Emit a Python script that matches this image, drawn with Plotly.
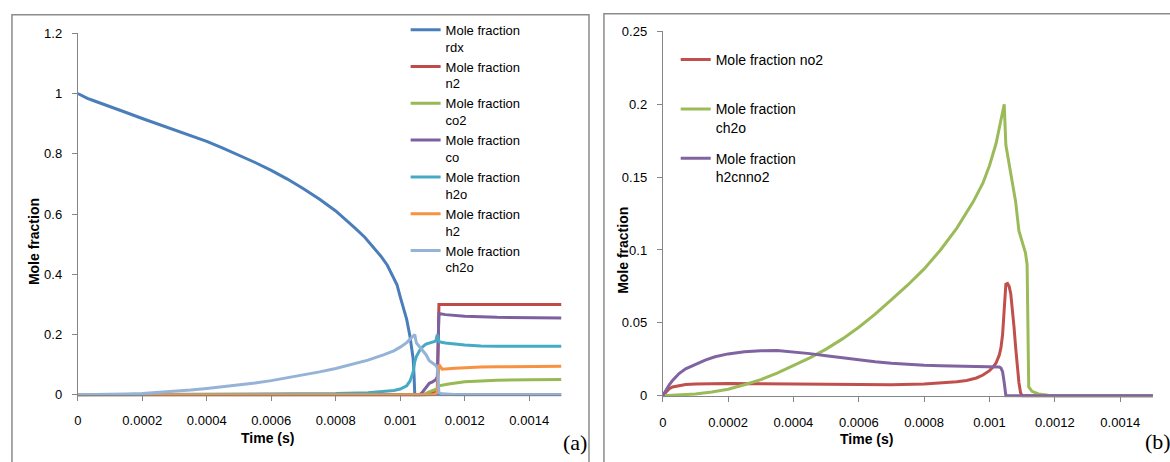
import plotly.graph_objects as go

# ---------------- data ----------------
# Panel (a)
t_rdx = [0, 0.00001, 0.00002, 0.00003, 0.00005, 0.00008, 0.0001, 0.00015, 0.0002, 0.00025,
         0.0003, 0.00035, 0.0004, 0.00045, 0.0005, 0.00055, 0.0006, 0.00065, 0.0007, 0.00075,
         0.0008, 0.00083, 0.00086, 0.00089, 0.00092, 0.00094, 0.00096, 0.00098, 0.00099, 0.001,
         0.00101, 0.00102, 0.00103, 0.00104, 0.001043, 0.001045, 0.0015]
y_rdx = [1.0, 0.994, 0.989, 0.984, 0.976, 0.965, 0.957, 0.937, 0.917, 0.898,
         0.879, 0.86, 0.841, 0.819, 0.796, 0.771, 0.745, 0.716, 0.684, 0.649,
         0.61, 0.583, 0.553, 0.523, 0.487, 0.46, 0.43, 0.39, 0.365, 0.325,
         0.29, 0.25, 0.195, 0.12, 0.06, 0.0, 0.0]

t_n2 = [0, 0.00108, 0.0011, 0.00111, 0.001115, 0.00112, 0.0015]
y_n2 = [0, 0, 0.005, 0.01, 0.02, 0.3, 0.3]

t_co2 = [0, 0.00107, 0.00109, 0.0011, 0.00111, 0.001115, 0.00112, 0.00115, 0.0012, 0.00125,
         0.0013, 0.0014, 0.0015]
y_co2 = [0, 0, 0.01, 0.015, 0.018, 0.02, 0.03, 0.036, 0.043, 0.046, 0.048, 0.05, 0.051]

t_co = [0, 0.00106, 0.00107, 0.00108, 0.00109, 0.0011, 0.00111, 0.001115, 0.00112, 0.00114,
        0.00117, 0.0012, 0.00125, 0.0013, 0.0015]
y_co = [0, 0, 0.01, 0.025, 0.038, 0.043, 0.05, 0.06, 0.27, 0.266, 0.263, 0.261, 0.259, 0.257, 0.255]

t_h2o = [0, 0.0005, 0.0008, 0.0009, 0.00095, 0.00098, 0.001, 0.00102, 0.00103, 0.00104, 0.001045,
         0.00105, 0.00106, 0.00107, 0.00108, 0.0011, 0.00111, 0.001115, 0.00112, 0.00114, 0.00117,
         0.0012, 0.00125, 0.0013, 0.0015]
y_h2o = [0, 0.002, 0.004, 0.007, 0.01, 0.014, 0.019, 0.03, 0.045, 0.075, 0.11,
         0.127, 0.147, 0.16, 0.168, 0.176, 0.178, 0.2, 0.176, 0.172, 0.168,
         0.165, 0.162, 0.161, 0.161]

t_h2 = [0, 0.0011, 0.00111, 0.001115, 0.00112, 0.00113, 0.00117, 0.0012, 0.00125, 0.0013, 0.0015]
y_h2 = [0, 0, 0.003, 0.01, 0.1, 0.085, 0.088, 0.09, 0.092, 0.093, 0.095]

t_ch2o = [0, 0.00005, 0.0001, 0.00015, 0.0002, 0.00025, 0.0003, 0.00035, 0.0004, 0.00045,
          0.0005, 0.00055, 0.0006, 0.00065, 0.0007, 0.00075, 0.0008, 0.00085, 0.0009, 0.00095,
          0.00098, 0.001, 0.00102, 0.00103, 0.00104, 0.001045, 0.00105, 0.00106, 0.00107,
          0.00108, 0.00109, 0.0011, 0.00111, 0.001115, 0.00112, 0.00113, 0.00115, 0.00118,
          0.0012, 0.0015]
y_ch2o = [0, 0.0004, 0.0012, 0.0025, 0.0045, 0.0075, 0.011, 0.0155, 0.0206, 0.026,
          0.032, 0.039, 0.047, 0.056, 0.066, 0.076, 0.087, 0.1, 0.115, 0.133,
          0.146, 0.158, 0.173, 0.184, 0.196, 0.2, 0.172, 0.158, 0.146,
          0.133, 0.113, 0.105, 0.098, 0.09, 0.006, 0.003, 0.0012, 0.0004,
          0, 0]

# Panel (b)
t_no2 = [0, 0.00001, 0.00002, 0.00003, 0.00005, 0.00007, 0.0001, 0.00015, 0.0002, 0.0003,
         0.0004, 0.0005, 0.0006, 0.0007, 0.0008, 0.00085, 0.0009, 0.00093, 0.00096, 0.00098,
         0.00099, 0.001, 0.00101, 0.00102, 0.00103, 0.001035, 0.00104, 0.001045, 0.00105,
         0.001055, 0.00106, 0.001065, 0.00107, 0.001075, 0.00108, 0.001085, 0.00109, 0.001095,
         0.0011, 0.0015]
y_no2 = [0, 0.0028, 0.0048, 0.006, 0.0071, 0.0077, 0.0081, 0.0083, 0.0084, 0.0082,
         0.008, 0.0077, 0.0075, 0.0076, 0.0081, 0.0087, 0.0096, 0.0105, 0.0122, 0.0142,
         0.0155, 0.0172, 0.0195, 0.0225, 0.028, 0.033, 0.042, 0.057, 0.0765,
         0.077, 0.075, 0.07, 0.06, 0.047, 0.033, 0.02, 0.009, 0.002,
         0, 0]

t_h2cnno2 = [0, 0.00001, 0.00002, 0.00003, 0.00005, 0.00007, 0.0001, 0.00013, 0.00016, 0.0002,
             0.00025, 0.0003, 0.00035, 0.0004, 0.00045, 0.0005, 0.00055, 0.0006, 0.00065, 0.0007,
             0.00075, 0.0008, 0.00085, 0.0009, 0.00095, 0.001, 0.00102, 0.00103, 0.001035,
             0.00104, 0.001045, 0.00105, 0.0015]
y_h2cnno2 = [0, 0.004, 0.0075, 0.0105, 0.0152, 0.0185, 0.0215, 0.0245, 0.0267, 0.0287,
             0.0301, 0.0309, 0.031, 0.0302, 0.0289, 0.0274, 0.0259, 0.0246, 0.0233, 0.0223,
             0.0215, 0.0209, 0.0205, 0.0203, 0.0203, 0.0203, 0.0201, 0.0197, 0.019,
             0.0165, 0.009, 0, 0]

x_tickvals = [0, 0.0002, 0.0004, 0.0006, 0.0008, 0.001, 0.0012, 0.0014]
x_ticktext = ["0", "0.0002", "0.0004", "0.0006", "0.0008", "0.001", "0.0012", "0.0014"]
ya_tickvals = [0, 0.2, 0.4, 0.6, 0.8, 1.0, 1.2]
ya_ticktext = ["0", "0.2", "0.4", "0.6", "0.8", "1", "1.2"]
yb_tickvals = [0, 0.05, 0.1, 0.15, 0.2, 0.25]
yb_ticktext = ["0", "0.05", "0.1", "0.15", "0.2", "0.25"]

# ---------------- layout helpers ----------------
W, H = 1170, 462
FONT = "Liberation Sans, Arial, sans-serif"
AXC = "#868686"


def px(x):
    return x / W


def py(y):
    return 1 - y / H


fig = go.Figure()

left_series = [
    ("Mole fraction<br>rdx", t_rdx, y_rdx, "#4A7EBB"),
    ("Mole fraction<br>n2", t_n2, y_n2, "#BE4B48"),
    ("Mole fraction<br>co2", t_co2, y_co2, "#98B954"),
    ("Mole fraction<br>co", t_co, y_co, "#7D60A0"),
    ("Mole fraction<br>h2o", t_h2o, y_h2o, "#46AAC5"),
    ("Mole fraction<br>h2", t_h2, y_h2, "#F69240"),
    ("Mole fraction<br>ch2o", t_ch2o, y_ch2o, "#95B3D7"),
]
for name, t, y, c in left_series:
    fig.add_trace(go.Scatter(x=t, y=y, mode="lines", name=name, xaxis="x", yaxis="y",
                             line=dict(color=c, width=3), legend="legend"))

right_series = [
    ("Mole fraction no2<br> ", t_no2, y_no2, "#C0504D"),
    ("Mole fraction<br>ch2o", t_ch2o, y_ch2o, "#9BBB59"),
    ("Mole fraction<br>h2cnno2", t_h2cnno2, y_h2cnno2, "#8064A2"),
]
for i, (name, t, y, c) in enumerate(right_series):
    fig.add_trace(go.Scatter(x=t, y=y, mode="lines", name=name, xaxis="x2", yaxis="y2",
                             line=dict(color=c, width=3), legend="legend2",
                             legendgroup="g%d" % i))

# pixel geometry of plot areas
A_X0, A_X1, A_Y0, A_Ytop = 74, 74 + 1.5 * 323.6, 399, 27
A_YMIN = -0.006
A_PPU = (A_Y0 - A_Ytop) / 1.2
A_BOT = A_Y0 - A_YMIN * A_PPU

B_X0, B_X1, B_Y0, B_Ytop = 661, 661 + 1.5 * 327.9, 400, 25
B_YMIN = -0.0013
B_PPU = (B_Y0 - B_Ytop) / 0.25
B_BOT = B_Y0 - B_YMIN * B_PPU

tickfont = dict(family=FONT, size=13, color="#000000")

xcommon = dict(range=[0, 0.0015], tickvals=x_tickvals, ticktext=x_ticktext, showline=True,
               linecolor=AXC, linewidth=1, ticks="outside", ticklen=5, tickcolor=AXC,
               showgrid=False, zeroline=False, tickfont=tickfont, anchor="free",
               fixedrange=True)
ycommon = dict(showline=True, linecolor=AXC, linewidth=1, ticks="outside", ticklen=5,
               tickcolor=AXC, showgrid=False, zeroline=False, tickfont=tickfont,
               fixedrange=True, ticklabelstandoff=7)

fig.update_layout(
    width=W, height=H, margin=dict(l=0, r=0, t=0, b=0),
    paper_bgcolor="white", plot_bgcolor="white",
    font=dict(family=FONT, color="#000000"),
    xaxis=dict(domain=[px(A_X0), px(A_X1)], position=py(A_Y0), ticklabelstandoff=9, **xcommon),
    yaxis=dict(domain=[py(A_BOT), py(A_Ytop)], range=[A_YMIN, 1.2], anchor="x",
               tickvals=ya_tickvals, ticktext=ya_ticktext, **ycommon),
    xaxis2=dict(domain=[px(B_X0), px(B_X1)], position=py(B_Y0), ticklabelstandoff=10, **xcommon),
    yaxis2=dict(domain=[py(B_BOT), py(B_Ytop)], range=[B_YMIN, 0.25], anchor="x2",
                tickvals=yb_tickvals, ticktext=yb_ticktext, **ycommon),
    legend=dict(x=px(403), y=py(8), xanchor="left", yanchor="top",
                font=dict(family=FONT, size=13), valign="top",
                bgcolor="rgba(0,0,0,0)", borderwidth=0, tracegroupgap=0),
    legend2=dict(x=px(674), y=py(38), xanchor="left", yanchor="top",
                 font=dict(family=FONT, size=14), valign="top",
                 bgcolor="rgba(0,0,0,0)", borderwidth=0, tracegroupgap=10),
    showlegend=True,
)

# panel frames
fig.add_shape(type="rect", xref="paper", yref="paper", x0=px(8), x1=px(587), y0=py(475), y1=py(8),
              line=dict(color="#8C8C8C", width=1.5), layer="below")
fig.add_shape(type="rect", xref="paper", yref="paper", x0=px(602), x1=px(1185), y0=py(475), y1=py(7),
              line=dict(color="#8C8C8C", width=1.5), layer="below")

titlefont = dict(family=FONT, size=14, color="#000000")
ann = [
    dict(x=px(30), y=py(241), text="<b>Mole fraction</b>", textangle=-90),
    dict(x=px(621), y=py(250), text="<b>Mole fraction</b>", textangle=-90),
    dict(x=px(264), y=py(443), text="<b>Time (s)</b>"),
    dict(x=px(865), y=py(445), text="<b>Time (s)</b>"),
]
for a in ann:
    fig.add_annotation(xref="paper", yref="paper", showarrow=False, font=titlefont,
                       xanchor="center", yanchor="middle", **a)
for lx, ly, lt in [(573, 448, "(a)"), (1158, 447, "(b)")]:
    fig.add_annotation(xref="paper", yref="paper", x=px(lx), y=py(ly), text=lt, showarrow=False,
                       xanchor="center", yanchor="middle",
                       font=dict(family="Liberation Serif, Times New Roman, serif", size=22,
                                 color="#000000"))

fig.write_html("out.html")
